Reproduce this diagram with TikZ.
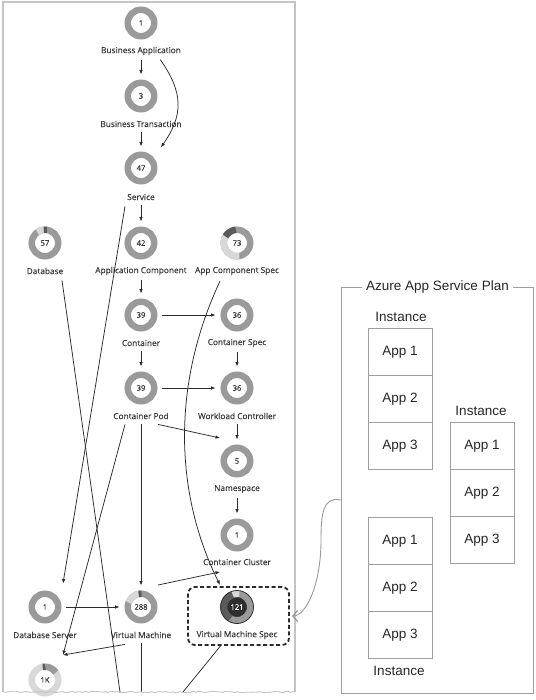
\documentclass[tikz,border=0pt]{standalone}
\usepackage{fontspec}
\setmainfont{Open Sans}
\newfontfamily\labelfont{Open Sans}[FakeBold=0.35]
\newfontfamily\planfont{Liberation Sans}
\usetikzlibrary{shapes,arrows,arrows.meta,decorations.pathmorphing}

\definecolor{ringgray}{HTML}{9A9A9A}
\definecolor{ringlight}{HTML}{D8D8D8}
\definecolor{ringdark}{HTML}{5A5A5A}
\definecolor{txtgray}{HTML}{3A3A3A}
\definecolor{edgegray}{HTML}{C4C4C4}
\definecolor{linedark}{HTML}{2A2A2A}

% one coloured piece of a ring
\newcommand{\ringseg}[4]{%
  \draw[#4, line width=6.5pt] ([shift={(#2:13.25pt)}]#1.center) arc[start angle=#2, end angle=#3, radius=13.25pt];
}

\begin{document}
\begin{tikzpicture}[x=1pt, y=1pt, >={Latex[length=4.5pt,width=3.6pt]},
    donut/.style={circle, draw=ringgray, line width=6.5pt, fill=white, minimum size=26.5pt,
      inner sep=0pt, text=txtgray, font=\labelfont\fontsize{7.6}{8}\selectfont},
    lbl/.style={inner sep=1pt, text=txtgray, font=\labelfont\fontsize{8.3}{10}\selectfont},
    link/.style={->, draw=linedark, line width=0.75pt, shorten <=4pt, shorten >=5pt},
    long/.style={->, draw=linedark, line width=0.75pt},
    cut/.style={draw=linedark, line width=0.75pt},
    dashbox/.style={draw=linedark, dash pattern=on 4pt off 2.5pt, line width=1.8pt,
      rounded corners=7pt, minimum width=101pt, minimum height=58pt},
    cell/.style={draw=gray!75, line width=0.6pt, minimum width=64pt, minimum height=47pt,
      inner sep=0pt, text=black!85, font=\planfont\fontsize{13.5}{16}\selectfont},
    inst/.style={inner sep=1pt, text=black!85, font=\planfont\fontsize{13.5}{16}\selectfont}]
                \useasboundingbox (0,0) rectangle (535,-700);

                % left panel
                \draw[edgegray, line width=1.2pt] (3,-692) -- (3,-2) -- (295,-2) -- (295,-692);

                % entities
                \node[donut] (ba) at (141,-23) {1};
                \node[lbl] (ba-l) at (141,-51) {Business Application};
                \node[donut] (bt) at (141,-96) {3};
                \node[lbl] (bt-l) at (141,-124) {Business Transaction};
                \node[donut] (svc) at (141,-168) {47};
                \node[lbl] (svc-l) at (141,-197) {Service};
                \node[donut] (db) at (45,-243) {57};
                \node[lbl] (db-l) at (45,-271) {Database};
                \node[donut] (ac) at (141,-243) {42};
                \node[lbl] (ac-l) at (141,-271) {Application Component};
                \node[donut] (acs) at (237,-243) {73};
                \node[lbl] (acs-l) at (237,-271) {App Component Spec};
                \node[donut] (ct) at (141,-315) {39};
                \node[lbl] (ct-l) at (141,-343) {Container};
                \node[donut] (cs) at (237,-315) {36};
                \node[lbl] (cs-l) at (237,-343) {Container Spec};
                \node[donut] (pod) at (141,-388) {39};
                \node[lbl] (pod-l) at (141,-416) {Container Pod};
                \node[donut] (wc) at (237,-388) {36};
                \node[lbl] (wc-l) at (237,-416) {Workload Controller};
                \node[donut] (ns) at (237,-461) {5};
                \node[lbl] (ns-l) at (237,-489) {Namespace};
                \node[donut] (cc) at (237,-535) {1};
                \node[lbl] (cc-l) at (237,-562) {Container Cluster};
                \node[donut] (dbs) at (45,-607) {1};
                \node[lbl] (dbs-l) at (45,-635) {Database Server};
                \node[donut] (vm) at (141,-607) {288};
                \node[lbl] (vm-l) at (141,-635) {Virtual Machine};
                \node[donut, fill=black!82, text=white] (vms) at (237,-607) {121};
                \node[lbl] (vms-l) at (237,-635) {Virtual Machine Spec};
                \node[donut, draw=ringlight] (k) at (45,-680) {1K};

                % ring pieces
                \ringseg{db}{95}{125}{ringlight}
                \ringseg{db}{82}{95}{ringdark}
                \ringseg{acs}{150}{280}{ringlight}
                \ringseg{acs}{95}{150}{ringdark}
                \ringseg{vm}{100}{160}{ringlight}
                \ringseg{vm}{88}{100}{ringdark}
                \ringseg{vms}{80}{110}{ringlight}
                \ringseg{vms}{110}{240}{ringdark}
                \draw[linedark, line width=0.8pt] (vms) circle[radius=16.5pt];
                \ringseg{k}{35}{88}{ringgray}
                \ringseg{k}{88}{100}{ringdark}

                % selected entity
                \node[dashbox] (vmsbox) at (238.5,-616) {};

                % loose ends at the torn edge
                \coordinate (db-end) at (120,-692);
                \coordinate (vm-end) at (141,-692);
                \coordinate (vms-end) at (183,-692);

                % short links
                \draw[link] (ba-l) -- (bt);
                \draw[link] (bt-l) -- (svc);
                \draw[link] (svc-l) -- (ac);
                \draw[link] (ac-l) -- (ct);
                \draw[link] (ct-l) -- (pod);
                \draw[link] (cs-l) -- (wc);
                \draw[link] (wc-l) -- (ns);
                \draw[link] (ns-l) -- (cc);
                \draw[link] (ct) -- (cs);
                \draw[link] (pod) -- (wc);
                \draw[link] (dbs) -- (vm);
                \draw[link] (pod-l) -- (vm);
                \draw[link] ([xshift=17pt]ba-l.south) to[out=-55, in=55, looseness=1.2] ([xshift=17pt]svc.north);

                % long links
                \draw[long] ([shift={(-16,-5)}]svc-l.south) -- ([shift={(18,7)}]dbs.north);
                \draw[long] ([shift={(-16,-4)}]pod-l.south) -- ([shift={(18,8.5)}]k.north);
                \draw[long] ([shift={(-16,-5)}]vm-l.south) -- ([shift={(18,8.5)}]k.north);
                \draw[long] ([shift={(17,-4)}]pod-l.south) -- ([shift={(-17,6.5)}]ns.north);
                \draw[long] ([shift={(17,5.5)}]vm.north) -- ([shift={(-17,-5.5)}]cc-l.south);
                \draw[long] ([shift={(-17,-5)}]acs-l.south) .. controls +(-47,-100) and +(-47,95) .. ([shift={(-17,5.5)}]vms.north);
                \draw[cut] ([shift={(17,-5)}]db-l.south) -- (db-end);
                \draw[cut, shorten <=4pt] (vm-l) -- (vm-end);
                \draw[cut] ([xshift=-18pt]vmsbox.south) -- (vms-end);

                % torn edge
                \draw[edgegray, line width=0.9pt, decorate, decoration={random steps, segment length=2.5pt, amplitude=0.8pt}] (3,-692) -- (295,-692);

                % service plan
                \node[draw=gray!75, line width=0.7pt, minimum width=192pt, minimum height=406pt] (planbox) at (437,-490) {};
                \node[inst, fill=white, inner xsep=4pt] (plan) at (437.5,-287) {Azure App Service Plan};
                \foreach \i in {1,2,3} {
                    \node[cell] (a\i) at (400,-305-47*\i) {App \i};
                    \node[cell] (b\i) at (482,-399-47*\i) {App \i};
                    \node[cell] (c\i) at (400,-494-47*\i) {App \i};
                }
                \node[inst] (a-l) at (401,-317) {Instance};
                \node[inst] (b-l) at (481,-411) {Instance};
                \node[inst] (c-l) at (399,-671) {Instance};

                % plan to spec
                \draw[gray!80, line width=0.9pt, -{Straight Barb[length=5pt,width=11pt,line width=1.2pt]}] ([yshift=-10pt]planbox.west) .. controls +(-18,4) and +(0,25) .. (321,-540) .. controls +(0,-45) and +(14,0) .. ([xshift=2pt]vmsbox.east);
            \end{tikzpicture}
\end{document}
